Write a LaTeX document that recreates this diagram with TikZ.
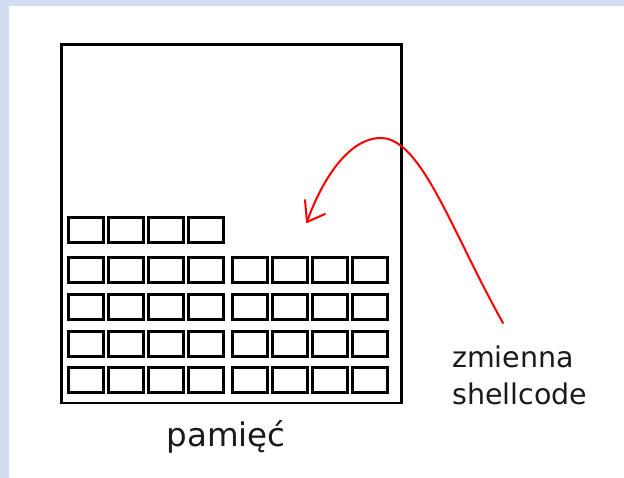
\documentclass[tikz,border=0pt]{standalone}
\usepackage{fontspec}
\setmainfont{DejaVu Sans}
\definecolor{bgblue}{HTML}{D0DDF1}
\definecolor{txt}{HTML}{1A1A1A}
\tikzset{
  cell/.style={draw=black, line width=2.6pt, minimum width=35pt, minimum height=25pt, inner sep=0pt, anchor=north west},
  memframe/.style={draw=black, line width=2.9pt},
  redline/.style={draw=red, line width=2pt, line cap=round, line join=round},
  lbl/.style={text=txt, inner sep=0pt}
}
\begin{document}
\begin{tikzpicture}[x=1pt,y=-1pt]
\useasboundingbox (0,0) rectangle (624,478);
\fill[white] (0,0) rectangle (624,478);
\fill[bgblue] (0,0) rectangle (624,6);
\fill[bgblue] (0,0) rectangle (9,478);
% memory frame
\node[memframe, minimum width=340pt, minimum height=358pt, inner sep=0pt, anchor=north west] (mem) at (60,43.5) {};
% top row (4 cells)
\foreach \c/\x in {1/67,2/107,3/147,4/187}{
  \node[cell] (r1c\c) at (\x,216.5) {};
}
% full rows
\foreach \r/\y in {2/256.5,3/293.5,4/330.5,5/366}{
  \foreach \c/\x in {1/67,2/107,3/147,4/187,5/231,6/271,7/311,8/351}{
    \node[cell] (r\r c\c) at (\x,\y) {};
  }
}
% labels
\node[lbl, anchor=base, font=\fontsize{32.5}{38}\selectfont] (pam) at (226,446) {pamięć};
\node[lbl, anchor=north west, align=left, font=\fontsize{28.5}{36.5}\selectfont] (var) at (452,346) {zmienna\\shellcode};
% red arrow
\coordinate (src) at (503,323);
\coordinate (tip) at (307,222);
\coordinate (hA) at (305,200);
\coordinate (hB) at (325,214);
\draw[redline] (src) .. controls (452,232) and (422,140) .. (382,138)
                     .. controls (345,137) and (318,190) .. (tip);
\draw[redline] (hA) -- (tip) -- (hB);
\end{tikzpicture}
\end{document}
